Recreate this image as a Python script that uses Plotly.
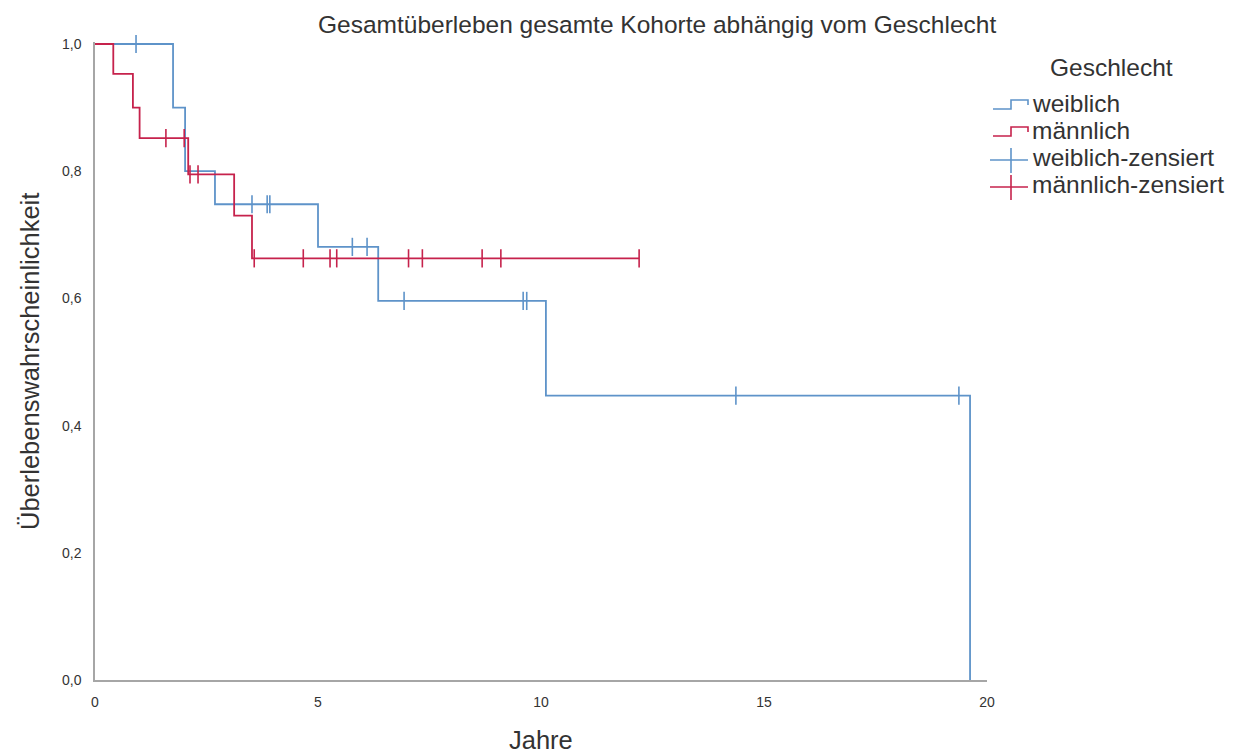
import plotly.graph_objects as go
import numpy as np

# ---- data ----
w_times = [0.0, 1.75, 2.02, 2.69, 5.00, 6.35, 10.11, 19.62]
w_surv = [1.0, 0.900, 0.800, 0.748, 0.681, 0.596, 0.447, 0.0]
w_cens = [0.92, 3.52, 3.86, 3.92, 5.77, 6.10, 6.93, 9.60, 9.68, 14.37, 19.37]

m_times = [0.0, 0.41, 0.85, 1.00, 2.09, 3.12, 3.52, 12.20]
m_surv = [1.0, 0.953, 0.900, 0.852, 0.795, 0.730, 0.663, 0.663]
m_cens = [1.59, 2.00, 2.13, 2.31, 3.57, 4.67, 5.27, 5.42, 7.03, 7.34, 8.68, 9.10, 12.20]

x_ticks = [0, 5, 10, 15, 20]
y_ticks = [0.0, 0.2, 0.4, 0.6, 0.8, 1.0]

BLUE = "#5e93c9"
RED = "#c6224c"
FONT = "Liberation Sans, Arial, sans-serif"
TXT = "#333333"


def step_at(times, surv, t):
    idx = np.searchsorted(np.array(times), t, side="right") - 1
    return [surv[i] for i in idx]


fig = go.Figure()
for times, surv, cens, col in [(w_times, w_surv, w_cens, BLUE), (m_times, m_surv, m_cens, RED)]:
    fig.add_trace(go.Scatter(x=times, y=surv, mode="lines", line=dict(color=col, width=1.8, shape="hv"),
                             showlegend=False, hoverinfo="skip"))
    fig.add_trace(go.Scatter(x=cens, y=step_at(times, surv, cens), mode="markers",
                             marker=dict(symbol="line-ns", size=13, line=dict(color=col, width=1.6)),
                             showlegend=False, hoverinfo="skip", cliponaxis=False))

W, H = 1237, 754
L, R, T, B = 95, 250, 42, 74
pw = W - L - R
ph = H - T - B


def px(x):
    return (x - L) / pw


def py(y):
    return (H - B - y) / ph


shapes = []
annotations = []

# legend
annotations.append(dict(text="Geschlecht", x=px(1111), y=py(67), xref="paper", yref="paper",
                        showarrow=False, xanchor="center", yanchor="middle", font=dict(size=24.5, color=TXT, family=FONT)))
legend_items = [("weiblich", BLUE, "step", 103), ("männlich", RED, "step", 130),
                ("weiblich-zensiert", BLUE, "cross", 157), ("männlich-zensiert", RED, "cross", 184)]
for label, col, kind, yc in legend_items:
    if kind == "step":
        pts = [(993, yc + 6), (1011, yc + 6), (1011, yc - 3), (1028, yc - 3), (1028, yc + 2)]
        path = "M " + " L ".join(f"{px(a)},{py(b)}" for a, b in pts)
        shapes.append(dict(type="path", xref="paper", yref="paper", path=path,
                           line=dict(color=col, width=1.6)))
    else:
        shapes.append(dict(type="line", xref="paper", yref="paper", x0=px(990), x1=px(1028),
                           y0=py(yc + 3), y1=py(yc + 3), line=dict(color=col, width=1.6)))
        shapes.append(dict(type="line", xref="paper", yref="paper", x0=px(1011), x1=px(1011),
                           y0=py(yc - 9), y1=py(yc + 16), line=dict(color=col, width=1.6)))
    annotations.append(dict(text=label, x=px(1030), y=py(yc), xref="paper", yref="paper",
                            showarrow=False, xanchor="left", yanchor="middle",
                            font=dict(size=24.5, color=TXT, family=FONT)))

# titles
annotations.append(dict(text="Gesamtüberleben gesamte Kohorte abhängig vom Geschlecht", x=px(657), y=py(25),
                        xref="paper", yref="paper", showarrow=False, xanchor="center", yanchor="middle",
                        font=dict(size=24.5, color=TXT, family=FONT)))
annotations.append(dict(text="Jahre", x=px(541), y=py(740), xref="paper", yref="paper", showarrow=False,
                        xanchor="center", yanchor="middle", font=dict(size=25.5, color=TXT, family=FONT)))
annotations.append(dict(text="Überlebenswahrscheinlichkeit", x=px(30), y=py(362), xref="paper", yref="paper",
                        showarrow=False, xanchor="center", yanchor="middle", textangle=-90,
                        font=dict(size=25.5, color=TXT, family=FONT)))

fig.update_layout(
    width=W, height=H,
    margin=dict(l=L, r=R, t=T, b=B, pad=0),
    paper_bgcolor="white", plot_bgcolor="white",
    separators=",.",
    showlegend=False,
    shapes=shapes, annotations=annotations,
    xaxis=dict(range=[0, 20], tickvals=x_ticks, ticktext=[str(v) for v in x_ticks], showgrid=False, zeroline=False,
               showline=True, linecolor="#a6a6a6", linewidth=1.5, ticks="", ticklabelstandoff=8,
               tickfont=dict(size=14, color=TXT, family=FONT)),
    yaxis=dict(range=[0, ph / 636], tickvals=y_ticks, tickformat=".1f", showgrid=False, zeroline=False,
               showline=True, linecolor="#a6a6a6", linewidth=1.5, ticks="", ticklabelstandoff=9,
               tickfont=dict(size=14, color=TXT, family=FONT)),
)

fig.write_html("out.html")
